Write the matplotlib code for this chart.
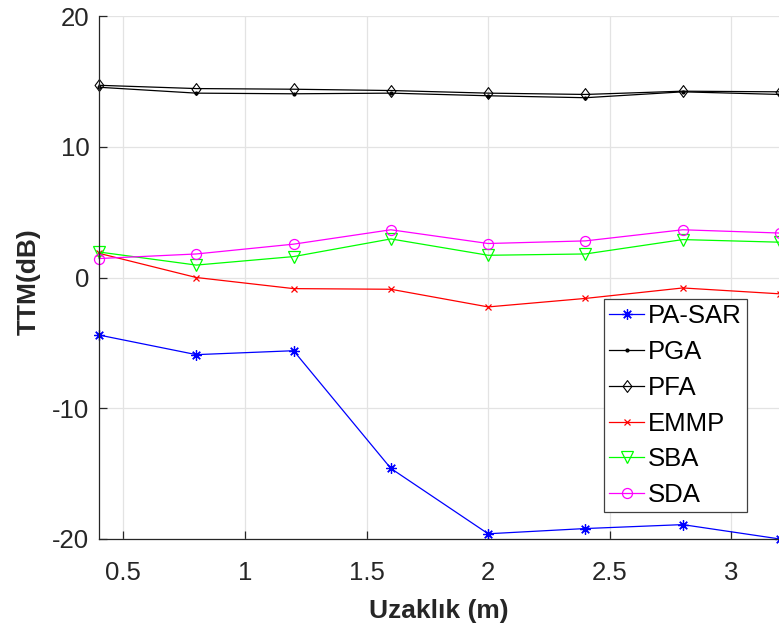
import matplotlib
matplotlib.use("Agg")
import matplotlib.pyplot as plt
from matplotlib.path import Path

x = [0.4, 0.8, 1.2, 1.6, 2.0, 2.4, 2.8, 3.2]
pa_sar = [-4.4, -5.9, -5.6, -14.6, -19.6, -19.2, -18.9, -20.0]
pga = [14.55, 14.1, 14.05, 14.1, 13.9, 13.75, 14.2, 14.0]
pfa = [14.7, 14.45, 14.4, 14.3, 14.1, 14.0, 14.25, 14.2]
emmp = [1.85, 0.0, -0.85, -0.9, -2.25, -1.6, -0.8, -1.25]
sba = [1.95, 0.95, 1.6, 2.95, 1.7, 1.8, 2.9, 2.7]
sda = [1.45, 1.8, 2.55, 3.65, 2.6, 2.8, 3.65, 3.4]

xticks = [0.5, 1, 1.5, 2, 2.5, 3]
xticklabels = ["0.5", "1", "1.5", "2", "2.5", "3"]
yticks = [-20, -10, 0, 10, 20]
yticklabels = ["-20", "-10", "0", "10", "20"]

plt.rcParams['font.family'] = ['Liberation Sans', 'DejaVu Sans']

W, H = 779, 630
fig = plt.figure(figsize=(W / 100, H / 100), dpi=100)
left, right, top, bottom = 99, 780, 16, 539
ax = fig.add_axes([left / W, 1 - bottom / H, (right - left) / W, (bottom - top) / H])

diamond = Path([(0, 1), (0.75, 0), (0, -1), (-0.75, 0), (0, 1)],
               [Path.MOVETO, Path.LINETO, Path.LINETO, Path.LINETO, Path.CLOSEPOLY])

lw = 0.9
ax.plot(x, pa_sar, color='#0000ff', marker=(8, 2, 0), markersize=7.5, markeredgewidth=0.9,
        lw=lw, label='PA-SAR', clip_on=False)
ax.plot(x, pga, color='black', marker='.', markersize=4, lw=lw, label='PGA', clip_on=False)
ax.plot(x, pfa, color='black', marker=diamond, markersize=8.5, markerfacecolor='none',
        markeredgewidth=0.8, lw=lw, label='PFA', clip_on=False)
ax.plot(x, emmp, color='#ff0000', marker='x', markersize=5, markeredgewidth=0.9,
        lw=lw, label='EMMP', clip_on=False)
ax.plot(x, sba, color='#00ff00', marker='v', markersize=8.5, markerfacecolor='none',
        markeredgewidth=0.9, lw=lw, label='SBA', clip_on=False)
ax.plot(x, sda, color='#ff00ff', marker='o', markersize=7.2, markerfacecolor='none',
        markeredgewidth=0.9, lw=lw, label='SDA', clip_on=False)

ax.set_xlim(0.4, 3.2)
ax.set_ylim(-20, 20)
ax.set_xticks(xticks)
ax.set_xticklabels(xticklabels)
ax.set_yticks(yticks)
ax.set_yticklabels(yticklabels)

ax.grid(True, color='#e3e3e3', lw=0.9)
ax.set_axisbelow(True)
for s in ['top', 'right']:
    ax.spines[s].set_visible(False)
for s in ['left', 'bottom']:
    ax.spines[s].set_color('#262626')
    ax.spines[s].set_linewidth(0.9)
ax.tick_params(direction='in', length=5.5, width=0.9, colors='#262626', labelsize=18.5)
ax.tick_params(axis='x', pad=15.5)
ax.tick_params(axis='y', pad=7)
for lab in ax.get_xticklabels() + ax.get_yticklabels():
    lab.set_color('#262626')

ax.set_xlabel('Uzaklık (m)', fontsize=19, fontweight='bold', color='#262626')
ax.set_ylabel('TTM(dB)', fontsize=19, fontweight='bold', color='#262626')
ax.xaxis.label.set_va('center')
ax.yaxis.label.set_va('center')
ax.xaxis.set_label_coords((439 - left) / (right - left), (bottom - 611) / (bottom - top))
ax.yaxis.set_label_coords((29 - left) / (right - left), (bottom - 282) / (bottom - top))

leg = ax.legend(loc='upper left',
                bbox_to_anchor=((604 - left) / (right - left), (bottom - 299) / (bottom - top)),
                borderaxespad=0, fontsize=18.5, fancybox=False, framealpha=1,
                edgecolor='#404040', labelspacing=0.46, handlelength=1.36,
                handletextpad=0.15, borderpad=0.2)
leg.get_frame().set_linewidth(0.9)

fig.savefig('out.png', dpi=100)
